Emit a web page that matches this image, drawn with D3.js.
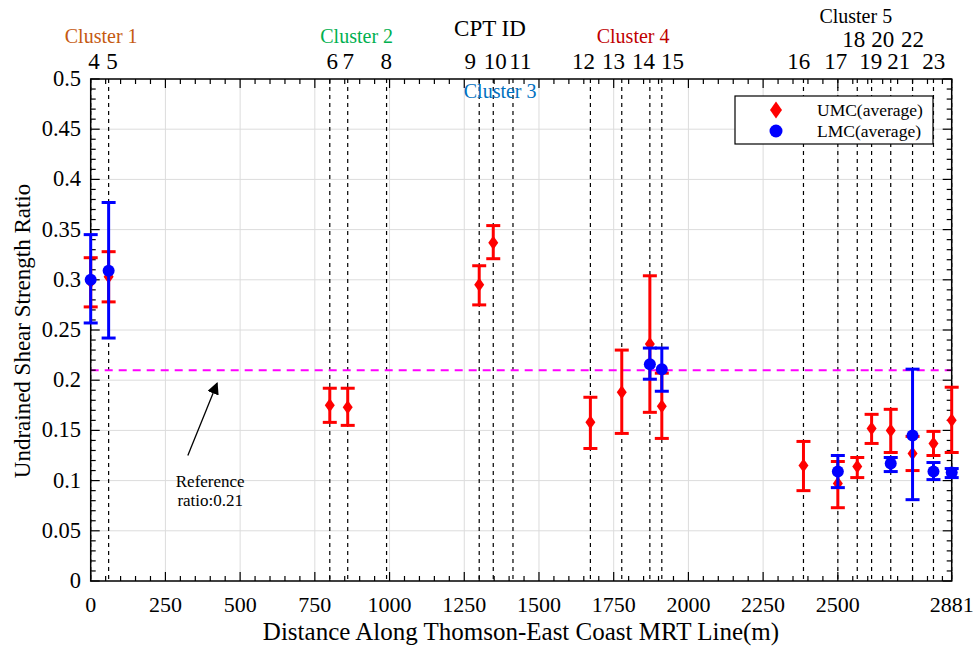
<!DOCTYPE html>
<html>
<head>
<meta charset="utf-8">
<script src="https://cdn.jsdelivr.net/npm/d3@7"></script>
<style>
  body { margin: 0; background: #fff; }
  svg { font-family: "Liberation Serif", "Times New Roman", serif; }
</style>
</head>
<body>
<div id="chart"></div>
<script>
// CPT locations along the line (m)
const cptIds  = [4, 5, 6, 7, 8, 9, 10, 11, 12, 13, 14, 15, 16, 17, 18, 19, 20, 21, 22, 23];
const cptDist = [0, 60, 800, 860, 990, 1300, 1347, 1413, 1672, 1777, 1871, 1911, 2385, 2500, 2565, 2613, 2677, 2750, 2820, 2881];
// where the id text sits (m) and which row (0 = lower, 1 = upper)
const cptLabelAt  = [11, 71, 808, 862, 989, 1270, 1354, 1438, 1649, 1749, 1850, 1947, 2369, 2493, 2553, 2610, 2650, 2704, 2750, 2821];
const cptLabelRow = [0, 0, 0, 0, 0, 0, 0, 0, 0, 0, 0, 0, 0, 0, 1, 0, 1, 0, 1, 0];

// UMC (average) with error range
const umcCpt  = [4, 5, 6, 7, 9, 10, 12, 13, 14, 15, 16, 17, 18, 19, 20, 21, 22, 23];
const umcMean = [0.298, 0.303, 0.175, 0.173, 0.295, 0.337, 0.158, 0.188, 0.236, 0.174, 0.115, 0.097, 0.114, 0.152, 0.150, 0.127, 0.137, 0.160];
const umcLow  = [0.273, 0.278, 0.158, 0.155, 0.275, 0.321, 0.132, 0.147, 0.168, 0.142, 0.090, 0.073, 0.103, 0.137, 0.128, 0.110, 0.125, 0.128];
const umcHigh = [0.322, 0.328, 0.192, 0.192, 0.314, 0.354, 0.183, 0.230, 0.304, 0.207, 0.139, 0.119, 0.123, 0.166, 0.171, 0.144, 0.149, 0.193];

// LMC (average) with error range
const lmcCpt  = [4, 5, 14, 15, 17, 20, 21, 22, 23];
const lmcMean = [0.300, 0.309, 0.216, 0.211, 0.109, 0.117, 0.145, 0.109, 0.108];
const lmcLow  = [0.257, 0.242, 0.201, 0.189, 0.093, 0.109, 0.081, 0.101, 0.103];
const lmcHigh = [0.345, 0.377, 0.232, 0.232, 0.125, 0.123, 0.211, 0.118, 0.112];

const refRatio = 0.21;

const clusterNames  = ["Cluster 1", "Cluster 2", "Cluster 3", "Cluster 4", "Cluster 5"];
const clusterColors = ["#c55a11", "#00b050", "#0070c0", "#c00000", "#000000"];
const clusterAt     = [35, 890, 1370, 1815, 2560];

const xTickValues = [0, 250, 500, 750, 1000, 1250, 1500, 1750, 2000, 2250, 2500, 2881];
const yTickValues = [0, 0.05, 0.1, 0.15, 0.2, 0.25, 0.3, 0.35, 0.4, 0.45, 0.5];

const W = 973, H = 648;
const m = { left: 90.7, right: 951.7, top: 79, bottom: 581 };

const svg = d3.select("#chart").append("svg")
  .attr("width", W).attr("height", H);

const x = d3.scaleLinear().domain([0, 2881]).range([m.left, m.right]);
const y = d3.scaleLinear().domain([0, 0.5]).range([m.bottom, m.top]);
const distOf = id => cptDist[cptIds.indexOf(id)];

// grid
const grid = svg.append("g").attr("stroke", "#dcdcdc").attr("stroke-width", 1);
grid.selectAll(".gx").data(xTickValues.slice(1, -1)).enter().append("line")
  .attr("x1", d => x(d)).attr("x2", d => x(d)).attr("y1", m.top).attr("y2", m.bottom);
grid.selectAll(".gy").data(yTickValues.slice(1, -1)).enter().append("line")
  .attr("y1", d => y(d)).attr("y2", d => y(d)).attr("x1", m.left).attr("x2", m.right);

// CPT dashed lines
svg.append("g").selectAll("line").data(cptDist).enter().append("line")
  .attr("x1", d => x(d)).attr("x2", d => x(d))
  .attr("y1", m.top).attr("y2", m.bottom)
  .attr("stroke", "#000").attr("stroke-width", 1.2)
  .attr("stroke-dasharray", "4,4");

// reference line
svg.append("line")
  .attr("x1", m.left).attr("x2", m.right)
  .attr("y1", y(refRatio)).attr("y2", y(refRatio))
  .attr("stroke", "#ff00ff").attr("stroke-width", 2)
  .attr("stroke-dasharray", "8,6");

// frame ticks (inward, all four sides)
const minorX = d3.range(0, 2881, 50).filter(v => !xTickValues.includes(v));
const minorY = d3.range(0, 51).map(v => v / 100).filter(v => !yTickValues.some(t => Math.abs(t - v) < 1e-9));
const ticks = svg.append("g").attr("stroke", "#000").attr("stroke-width", 1.2);
function xTicks(vals, len) {
  vals.forEach(v => {
    ticks.append("line").attr("x1", x(v)).attr("x2", x(v)).attr("y1", m.bottom).attr("y2", m.bottom - len);
    ticks.append("line").attr("x1", x(v)).attr("x2", x(v)).attr("y1", m.top).attr("y2", m.top + len);
  });
}
function yTicks(vals, len) {
  vals.forEach(v => {
    ticks.append("line").attr("y1", y(v)).attr("y2", y(v)).attr("x1", m.left).attr("x2", m.left + len);
    ticks.append("line").attr("y1", y(v)).attr("y2", y(v)).attr("x1", m.right).attr("x2", m.right - len);
  });
}
xTicks(xTickValues, 9); xTicks(minorX, 5);
yTicks(yTickValues, 9); yTicks(minorY, 5);

svg.append("rect")
  .attr("x", m.left).attr("y", m.top)
  .attr("width", m.right - m.left).attr("height", m.bottom - m.top)
  .attr("fill", "none").attr("stroke", "#000").attr("stroke-width", 1.5);

// tick labels
svg.append("g").selectAll("text").data(xTickValues).enter().append("text")
  .attr("x", d => x(d)).attr("y", 612)
  .attr("text-anchor", "middle").attr("font-size", 22)
  .text(d => d);
svg.append("g").selectAll("text").data(yTickValues).enter().append("text")
  .attr("x", 81).attr("y", d => y(d) + 7)
  .attr("text-anchor", "end").attr("font-size", 22.5)
  .text(d => d3.format("~g")(d));

// axis titles
svg.append("text")
  .attr("x", 521).attr("y", 640)
  .attr("text-anchor", "middle").attr("font-size", 25)
  .text("Distance Along Thomson-East Coast MRT Line(m)");
svg.append("text")
  .attr("transform", `translate(30,331) rotate(-90)`)
  .attr("text-anchor", "middle").attr("font-size", 23)
  .text("Undrained Shear Strength Ratio");

// CPT id labels on top
svg.append("g").selectAll("text").data(cptIds).enter().append("text")
  .attr("x", (d, i) => x(cptLabelAt[i]))
  .attr("y", (d, i) => cptLabelRow[i] ? 47 : 69)
  .attr("text-anchor", "middle").attr("font-size", 23)
  .text(d => d);
svg.append("text")
  .attr("x", 490).attr("y", 36)
  .attr("text-anchor", "middle").attr("font-size", 23)
  .text("CPT ID");

// cluster names
const clusterY = [43, 43, 98, 43, 23];
svg.append("g").selectAll("text").data(clusterNames).enter().append("text")
  .attr("x", (d, i) => x(clusterAt[i]))
  .attr("y", (d, i) => clusterY[i])
  .attr("text-anchor", "middle").attr("font-size", 20)
  .attr("fill", (d, i) => clusterColors[i])
  .text(d => d);

// error bars
function errorBars(ids, mean, low, high, color) {
  const g = svg.append("g").attr("stroke", color).attr("stroke-width", 3);
  ids.forEach((id, i) => {
    const cx = x(distOf(id));
    g.append("line").attr("x1", cx).attr("x2", cx).attr("y1", y(low[i])).attr("y2", y(high[i]));
    [low[i], high[i]].forEach(v => {
      g.append("line").attr("x1", cx - 7).attr("x2", cx + 7).attr("y1", y(v)).attr("y2", y(v));
    });
  });
}
const diamond = (cx, cy, w, h) => `M${cx},${cy - h}L${cx + w},${cy}L${cx},${cy + h}L${cx - w},${cy}Z`;

errorBars(umcCpt, umcMean, umcLow, umcHigh, "#ff0000");
svg.append("g").selectAll("path").data(umcCpt).enter().append("path")
  .attr("d", (d, i) => diamond(x(distOf(d)), y(umcMean[i]), 5, 7))
  .attr("fill", "#ff0000");

errorBars(lmcCpt, lmcMean, lmcLow, lmcHigh, "#0000ff");
svg.append("g").selectAll("circle").data(lmcCpt).enter().append("circle")
  .attr("cx", d => x(distOf(d))).attr("cy", (d, i) => y(lmcMean[i]))
  .attr("r", 6).attr("fill", "#0000ff");

// reference annotation
svg.append("defs").append("marker")
  .attr("id", "head").attr("viewBox", "0 0 10 10")
  .attr("refX", 9).attr("refY", 5)
  .attr("markerWidth", 12).attr("markerHeight", 12)
  .attr("markerUnits", "userSpaceOnUse")
  .attr("orient", "auto")
  .append("path").attr("d", "M0,0L10,5L0,10Z").attr("fill", "#000");
svg.append("line")
  .attr("x1", x(325)).attr("y1", y(0.125))
  .attr("x2", x(423)).attr("y2", y(0.197))
  .attr("stroke", "#000").attr("stroke-width", 1.3)
  .attr("marker-end", "url(#head)");
svg.append("text").attr("x", x(400)).attr("y", 487)
  .attr("text-anchor", "middle").attr("font-size", 17).text("Reference");
svg.append("text").attr("x", x(400)).attr("y", 506)
  .attr("text-anchor", "middle").attr("font-size", 17).text("ratio:0.21");

// legend
const lg = svg.append("g").attr("transform", "translate(735,96)");
lg.append("rect").attr("width", 198).attr("height", 48)
  .attr("fill", "#fff").attr("stroke", "#000").attr("stroke-width", 1.2);
lg.append("path").attr("d", diamond(41, 14, 6, 8.5)).attr("fill", "#ff0000");
lg.append("circle").attr("cx", 41).attr("cy", 35).attr("r", 6.5).attr("fill", "#0000ff");
lg.append("text").attr("x", 82).attr("y", 20).attr("font-size", 17.5).text("UMC(average)");
lg.append("text").attr("x", 82).attr("y", 41).attr("font-size", 17.5).text("LMC(average)");
</script>
</body>
</html>
